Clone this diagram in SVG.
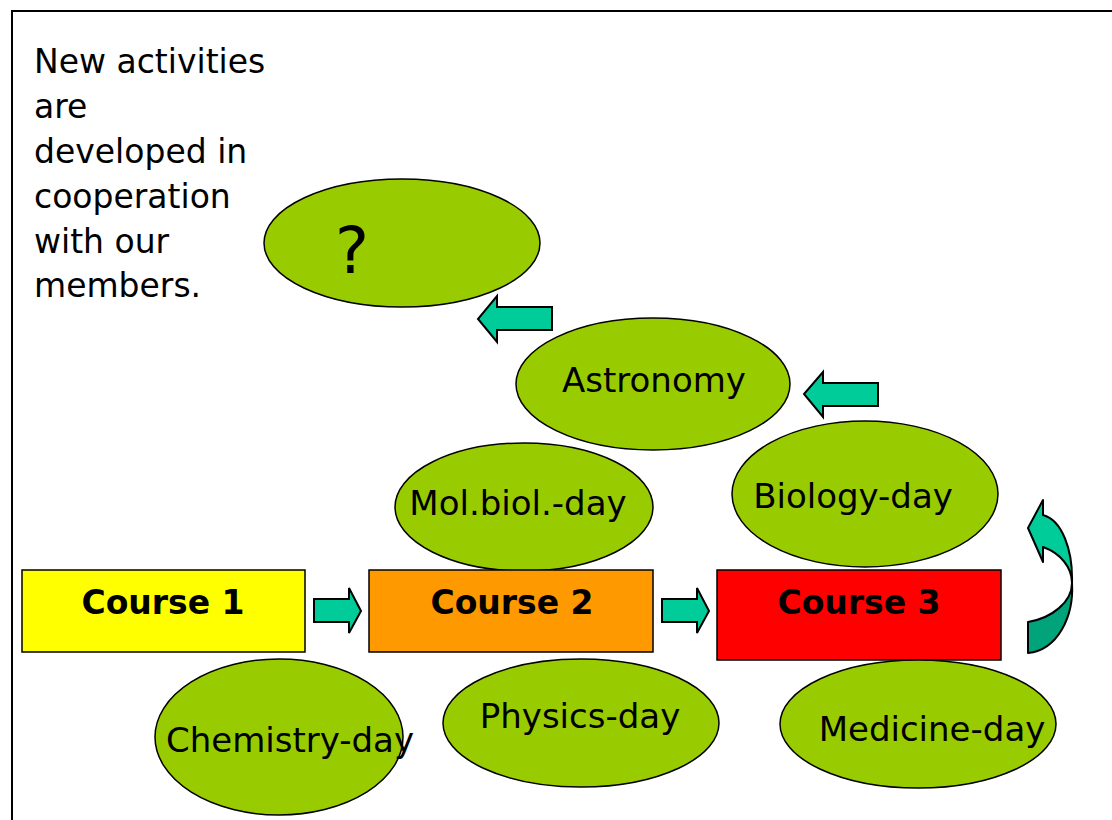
<svg xmlns="http://www.w3.org/2000/svg" width="1112" height="820" viewBox="0 0 1112 820">
<style>
text{font-family:"DejaVu Sans","Liberation Sans",sans-serif;fill:#000}
.t{font-size:33px}
.e{font-size:34px}
.b{font-size:33px;font-weight:bold}
.ell{fill:#99CC00;stroke:#000;stroke-width:1.5}
.box{stroke:#000;stroke-width:1.5}
.arr{fill:#00CC99;stroke:#000;stroke-width:2;stroke-linejoin:miter}
</style>
<rect width="1112" height="820" fill="#fff"/>
<rect x="12" y="11" width="1200" height="900" fill="none" stroke="#000" stroke-width="2"/>
<g id="intro">
<text class="t" x="34" y="73">New activities</text>
<text class="t" x="34" y="118">are</text>
<text class="t" x="34" y="163">developed in</text>
<text class="t" x="34" y="208">cooperation</text>
<text class="t" x="34" y="253">with our</text>
<text class="t" x="34" y="297">members.</text>
</g>
<g id="unknown">
<ellipse class="ell" cx="402" cy="243" rx="138" ry="64"/>
<text x="352" y="273" font-size="64" text-anchor="middle">?</text>
</g>
<g id="astronomy">
<ellipse class="ell" cx="653" cy="384" rx="137" ry="66"/>
<text class="e" x="654" y="392" text-anchor="middle">Astronomy</text>
</g>
<g id="molbiol">
<ellipse class="ell" cx="524" cy="507" rx="129" ry="64"/>
<text class="e" x="518" y="515" text-anchor="middle">Mol.biol.-day</text>
</g>
<g id="biology">
<ellipse class="ell" cx="865" cy="494" rx="133" ry="73"/>
<text class="e" x="853" y="508" text-anchor="middle">Biology-day</text>
</g>
<g id="course1">
<rect class="box" x="22" y="570" width="283" height="82" fill="#FFFF00"/>
<text class="b" x="163" y="614" text-anchor="middle">Course 1</text>
</g>
<g id="course2">
<rect class="box" x="369" y="570" width="284" height="82" fill="#FF9900"/>
<text class="b" x="512" y="614" text-anchor="middle">Course 2</text>
</g>
<g id="course3">
<rect class="box" x="717" y="570" width="284" height="90" fill="#FF0000"/>
<text class="b" x="859" y="614" text-anchor="middle">Course 3</text>
</g>
<g id="chemistry">
<ellipse class="ell" cx="279" cy="737" rx="124" ry="78"/>
<text class="e" x="290" y="752" text-anchor="middle">Chemistry-day</text>
</g>
<g id="physics">
<ellipse class="ell" cx="581" cy="723" rx="138" ry="64"/>
<text class="e" x="580" y="728" text-anchor="middle">Physics-day</text>
</g>
<g id="medicine">
<ellipse class="ell" cx="918" cy="724" rx="138" ry="64"/>
<text class="e" x="932" y="741" text-anchor="middle">Medicine-day</text>
</g>
<g id="connectors">
<polygon class="arr" points="314,599 349,599 349,588 361,611 349,633 349,622 314,622"/>
<polygon class="arr" points="662,599 697,599 697,588 709,611 697,633 697,622 662,622"/>
<polygon class="arr" points="552,307 497,307 497,296 478,319 497,342 497,330 552,330"/>
<polygon class="arr" points="878,383 823,383 823,372 804,394 823,417 823,406 878,406"/>
<path d="M1028,622 C1052,618 1072,602 1072,583 C1074,616 1058,650 1028,653 Z" fill="#00A37A" stroke="#000" stroke-width="2" stroke-linejoin="round"/>
<path d="M1043,500 L1028,528 L1043,562 L1043,547 C1060,553 1072,567 1072,583 C1073,550 1062,520 1043,515 Z" fill="#00CC99" stroke="#000" stroke-width="2" stroke-linejoin="round"/>
</g>
</svg>
